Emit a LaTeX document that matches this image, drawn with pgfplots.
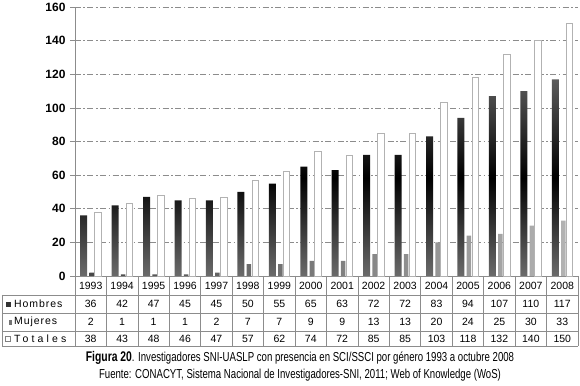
\documentclass[border=0pt]{standalone}
\usepackage{fontspec}
\setmainfont{Liberation Sans}
\newfontfamily\narrowfont[FakeStretch=0.74]{Liberation Sans}
\usepackage{pgfplots}
\pgfplotsset{compat=1.18}

\definecolor{axgray}{gray}{0.55}

\begin{document}
\begin{tikzpicture}
\useasboundingbox (-75pt,-109pt) rectangle (505pt,276pt);
\begin{axis}[
    at={(0pt,0pt)}, anchor=south west,
    scale only axis, width=503pt, height=269pt,
    xmin=-0.5, xmax=15.5, ymin=0, ymax=160,
    ytick={0,20,...,160}, xtick=\empty,
    axis lines*=left, axis line style={-, axgray, line width=0.8pt},
    ymajorgrids,
    grid style={axgray, line width=0.7pt, dash pattern=on 6pt off 2.5pt on 1.5pt off 2.5pt},
    tick align=outside, major tick length=5pt, tick style={axgray, line width=0.7pt},
    yticklabel style={font=\bfseries\fontsize{12}{13}\selectfont, xshift=-1pt},
    /pgf/number format/assume math mode=true,
    ybar, clip=false,
]
% Hombres
\addplot[draw=none, bar width=7pt, bar shift=-7pt,
    top color=black!64, bottom color=black!58, middle color=black]
    coordinates {(0,36) (1,42) (2,47) (3,45) (4,45) (5,50) (6,55) (7,65)
                 (8,63) (9,72) (10,72) (11,83) (12,94) (13,107) (14,110) (15,117)};
% Mujeres
\addplot[draw=none, bar width=4.5pt, bar shift=1pt,
    left color=black!72, right color=black!30]
    coordinates {(0,2) (1,1) (2,1) (3,1) (4,2) (5,7) (6,7) (7,9)
                 (8,9) (9,13) (10,13) (11,20) (12,24) (13,25) (14,30) (15,33)};
% Totales
\addplot[draw=black!30, line width=0.8pt, fill=white, bar width=6.5pt, bar shift=7.3pt]
    coordinates {(0,38) (1,43) (2,48) (3,46) (4,47) (5,57) (6,62) (7,74)
                 (8,72) (9,85) (10,85) (11,103) (12,118) (13,132) (14,140) (15,150)};
\end{axis}

% data table below the plot
\def\cw{31.4375}
\begin{scope}[axgray, line width=0.7pt]
  \foreach \k in {0,...,16} \draw ({\k*\cw pt},0pt) -- ({\k*\cw pt},-70pt);
  \draw (0pt,-19pt) -- (503pt,-19pt);
  \draw (0pt,-37pt) -- (503pt,-37pt);
  \draw (0pt,-55pt) -- (503pt,-55pt);
  \draw (0pt,-70pt) -- (503pt,-70pt);
  \draw (-73pt,-19pt) -- (0pt,-19pt);
  \draw (-73pt,-37pt) -- (0pt,-37pt);
  \draw (-73pt,-55pt) -- (0pt,-55pt);
  \draw (-73pt,-70pt) -- (0pt,-70pt);
  \draw (-73pt,-19pt) -- (-73pt,-70pt);
\end{scope}
\begin{scope}[every node/.style={font=\fontsize{10.5}{12}\selectfont, inner sep=0pt}]
  \foreach \v [count=\i from 0] in {1993,1994,1995,1996,1997,1998,1999,2000,2001,2002,2003,2004,2005,2006,2007,2008}
    \node at ({(\i+0.5)*\cw pt},-9.5pt) {\v};
  \foreach \v [count=\i from 0] in {36,42,47,45,45,50,55,65,63,72,72,83,94,107,110,117}
    \node at ({(\i+0.5)*\cw pt},-28pt) {\v};
  \foreach \v [count=\i from 0] in {2,1,1,1,2,7,7,9,9,13,13,20,24,25,30,33}
    \node at ({(\i+0.5)*\cw pt},-46pt) {\v};
  \foreach \v [count=\i from 0] in {38,43,48,46,47,57,62,74,72,85,85,103,118,132,140,150}
    \node at ({(\i+0.5)*\cw pt},-62.5pt) {\v};
  % row labels
  \fill[black!80] (-69pt,-30.5pt) rectangle (-64pt,-25.5pt);
  \node[anchor=west] at (-61pt,-28pt) {\addfontfeature{LetterSpace=9}Hombres};
  \fill[black!55] (-66pt,-48.5pt) rectangle (-63pt,-43.5pt);
  \node[anchor=west] at (-61pt,-46pt) {\addfontfeature{LetterSpace=9}Mujeres};
  \draw[black!50, line width=0.5pt, fill=white] (-70pt,-65pt) rectangle (-65pt,-60pt);
  \node[anchor=west] at (-61pt,-62.5pt) {\addfontfeature{LetterSpace=30}Totales};
\end{scope}

% caption
\node[font=\narrowfont\fontsize{13}{15}\selectfont, inner sep=0pt] at (225pt,-82pt)
  {\textbf{\fontsize{14}{15}\selectfont Figura 20}. Investigadores SNI-UASLP con presencia en SCI/SSCI por género 1993 a octubre 2008};
\node[font=\narrowfont\fontsize{13}{15}\selectfont, inner sep=0pt] at (225pt,-99pt)
  {Fuente: CONACYT, Sistema Nacional de Investigadores-SNI, 2011; Web of Knowledge (WoS)};
\end{tikzpicture}
\end{document}
